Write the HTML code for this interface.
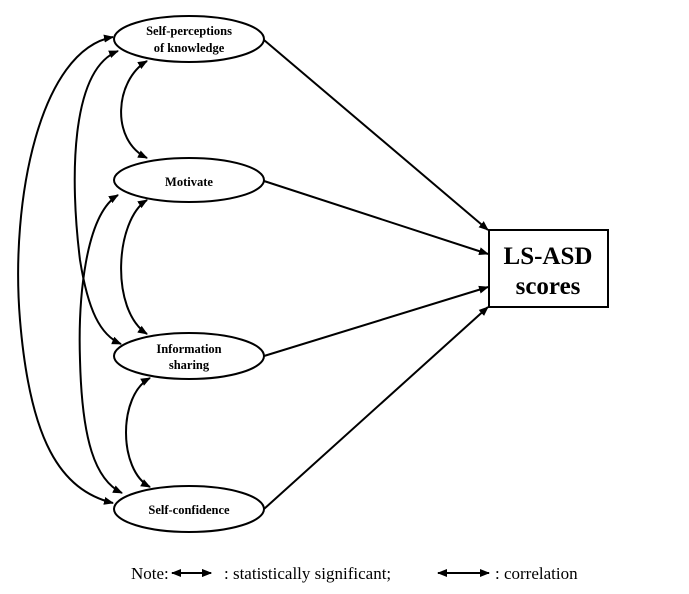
<!DOCTYPE html>
<html><head><style>
html,body{margin:0;padding:0;background:#fff;}
svg{display:block;}
text{font-family:"Liberation Serif",serif;}
</style></head><body>
<svg width="689" height="594" viewBox="0 0 689 594" xmlns="http://www.w3.org/2000/svg">
<defs>
<marker id="ah" viewBox="0 0 10 10" refX="9" refY="5" markerWidth="5" markerHeight="5" orient="auto-start-reverse">
<path d="M0,1 L10,5 L0,9 z" fill="#000"/>
</marker>
</defs>
<g fill="none" stroke="#000" stroke-width="2">
<ellipse cx="189" cy="39" rx="75" ry="23"/>
<ellipse cx="189" cy="180" rx="75" ry="22"/>
<ellipse cx="189" cy="356" rx="75" ry="23"/>
<ellipse cx="189" cy="509" rx="75" ry="23"/>
<rect x="489" y="230" width="119" height="77"/>
</g>
<g fill="none" stroke="#000" stroke-width="2" marker-end="url(#ah)">
<line x1="264" y1="40" x2="488" y2="230"/>
<line x1="264" y1="181" x2="488" y2="254"/>
<line x1="264" y1="356" x2="488" y2="287"/>
<line x1="264" y1="509" x2="488" y2="307"/>
</g>
<g fill="none" stroke="#000" stroke-width="2" marker-start="url(#ah)" marker-end="url(#ah)">
<path d="M113,37 C40,50 10,200 20,320 C30,440 60,490 113,503"/>
<path d="M118,51 C70,70 70,180 80,260 C88,310 100,335 121,344"/>
<path d="M118,195 C85,215 78,300 80,360 C82,440 95,480 122,493"/>
<path d="M147,61 C115,80 110,140 147,158"/>
<path d="M147,200 C115,220 110,310 147,334"/>
<path d="M150,378 C118,395 118,470 150,487"/>
<line x1="172" y1="573" x2="211" y2="573"/>
</g>
<line x1="172" y1="573" x2="211" y2="573" stroke="#000" stroke-width="2" marker-end="url(#ah)"/>
<line x1="438" y1="573" x2="489" y2="573" stroke="#000" stroke-width="2" marker-start="url(#ah)" marker-end="url(#ah)"/>
<g font-weight="bold" font-size="12.5" text-anchor="middle">
<text x="189" y="35">Self-perceptions</text>
<text x="189" y="52">of knowledge</text>
<text x="189" y="186">Motivate</text>
<text x="189" y="353">Information</text>
<text x="189" y="369">sharing</text>
<text x="189" y="514">Self-confidence</text>
</g>
<g font-weight="bold" font-size="25" text-anchor="middle">
<text x="548" y="264">LS-ASD</text>
<text x="548" y="294">scores</text>
</g>
<g font-size="17">
<text x="131" y="579">Note:</text>
<text x="224" y="579">: statistically significant;</text>
<text x="495" y="579">: correlation</text>
</g>
</svg>
</body></html>
